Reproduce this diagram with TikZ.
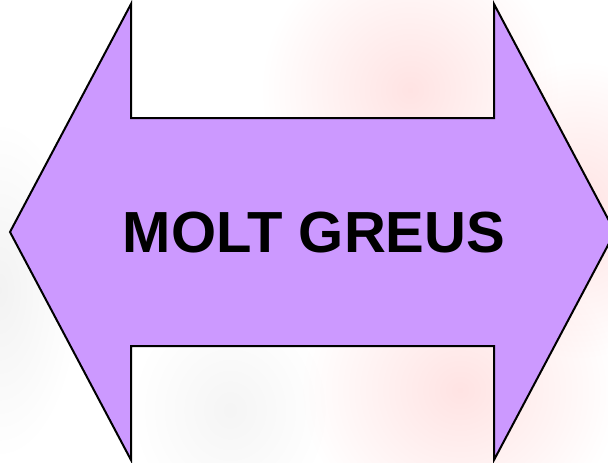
\documentclass[tikz,border=0pt]{standalone}
\usepackage{fontspec}
\setmainfont{Liberation Sans}
\usetikzlibrary{positioning}
\definecolor{lavender}{HTML}{CC99FF}
\begin{document}
\begin{tikzpicture}[x=1pt,y=-1pt,
 arrowshape/.style={draw=black,fill=lavender,line width=2pt,line join=miter},
 lbl/.style={font=\fontsize{58}{60}\selectfont\bfseries,inner sep=0pt},
 blot/.style={inner color=red!11,outer color=white,blend mode=multiply}]
\useasboundingbox (0,0) rectangle (608,463);
\fill[white] (0,0) rectangle (608,463);
% faint background
\begin{scope}
\clip (0,0) rectangle (608,463);
\shade[blot] (260,-60) rectangle (560,240);
\shade[blot] (300,240) rectangle (620,540);
\shade[blot] (460,60) rectangle (700,360);
\shade[blot,inner color=black!5] (-80,120) rectangle (80,460);
\shade[blot,inner color=black!4] (130,300) rectangle (330,520);
\draw[arrowshape] (10,232) -- (131,4) -- (131,118) -- (494,118) -- (494,4)
 -- (615,232) -- (494,460) -- (494,346) -- (131,346) -- (131,460) -- cycle;
\end{scope}
\node[lbl] (txt) at (314,233) {MOLT GREUS};
\end{tikzpicture}
\end{document}
